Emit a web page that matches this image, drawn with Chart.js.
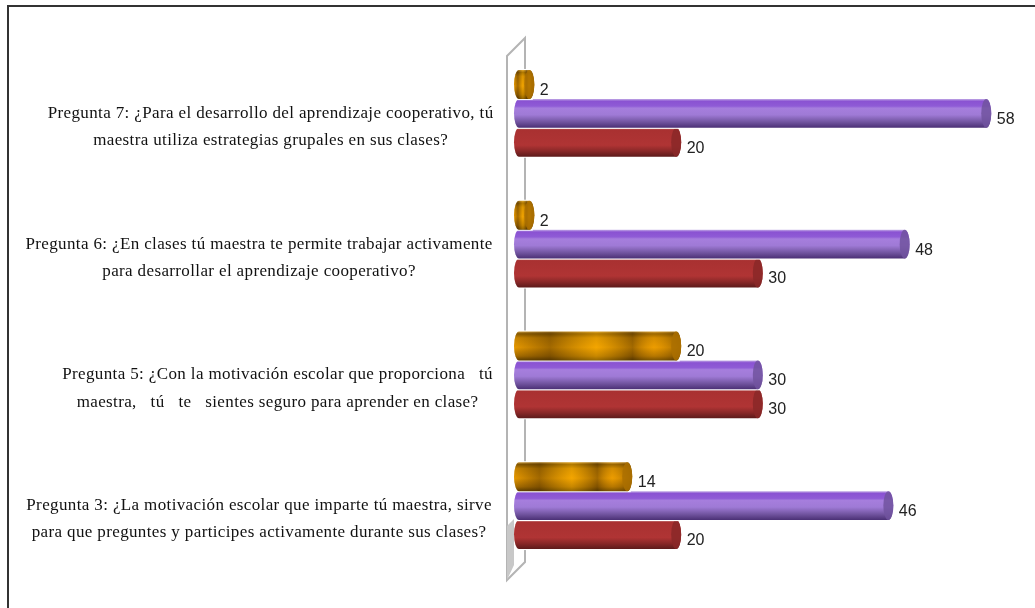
<!DOCTYPE html>
<html>
<head>
<meta charset="utf-8">
<style>
  html, body { margin: 0; padding: 0; background: #fff; overflow: hidden; }
  #frame { position: absolute; left: 7px; top: 5px; width: 1028px; height: 603px; border-top: 2px solid #333; border-left: 2px solid #333; box-sizing: border-box; }
  canvas { position: absolute; left: 0; top: 0; filter: blur(0.35px); }
</style>
</head>
<body>
<div id="frame"></div>
<canvas id="chart" width="1035" height="608"></canvas>
<script src="https://cdn.jsdelivr.net/npm/chart.js@4"></script>
<script>
const categories = [
  ['', '     Pregunta 7: ¿Para el desarrollo del aprendizaje cooperativo, tú', '     maestra utiliza estrategias grupales en sus clases?'],
  ['', 'Pregunta 6: ¿En clases tú maestra te permite trabajar activamente', 'para desarrollar el aprendizaje cooperativo?'],
  ['', '        Pregunta 5: ¿Con la motivación escolar que proporciona   tú', '        maestra,   tú   te   sientes seguro para aprender en clase?'],
  ['', 'Pregunta 3: ¿La motivación escolar que imparte tú maestra, sirve', 'para que preguntes y participes activamente durante sus clases?'],
];
const orangeValues = [2, 2, 20, 14];
const purpleValues = [58, 48, 30, 46];
const redValues = [20, 30, 30, 20];

// vertical shading of each cylinder
const purpleStops = [[0, '#c4aee6'], [0.08, '#8a52d2'], [0.25, '#8f5bd6'], [0.32, '#a67edd'], [0.55, '#9f7ad6'], [0.8, '#71549f'], [1, '#4a2f74']];
const redStops = [[0, '#c58080'], [0.07, '#a93131'], [0.6, '#b03434'], [0.8, '#8a2828'], [1, '#5c1a1a']];
const orangeStops = [[0, '#d9a94a'], [0.08, '#8a5c00'], [0.22, '#d08a00'], [0.55, '#ee9e00'], [0.85, '#ab7000'], [1, '#5f4000']];

function verticalGradient(ctx, top, bottom, stops) {
  const g = ctx.createLinearGradient(0, top, 0, bottom);
  stops.forEach(s => g.addColorStop(s[0], s[1]));
  return g;
}

function cylinderPath(ctx, left, right, top, bottom, r) {
  const mid = (top + bottom) / 2;
  const h = (bottom - top) / 2;
  ctx.beginPath();
  ctx.moveTo(left, top);
  ctx.lineTo(right, top);
  ctx.ellipse(right, mid, r, h, 0, -Math.PI / 2, Math.PI / 2);
  ctx.lineTo(left, bottom);
  ctx.ellipse(left, mid, r, h, 0, Math.PI / 2, Math.PI * 1.5);
  ctx.closePath();
}

const cylinderPlugin = {
  id: 'cylinders',
  beforeUpdate(chart) {
    // the labels in the picture are spaced out a bit
    chart.ctx.letterSpacing = '0.37px';
  },
  beforeDatasetsDraw(chart) {
    // 3D wall behind the bars
    const ctx = chart.ctx;
    const a = chart.chartArea;
    const dx = a.left - 8.5;
    ctx.save();
    ctx.strokeStyle = '#b4b4b4';
    ctx.lineWidth = 2;
    ctx.beginPath();
    ctx.moveTo(dx, a.top + 8);
    ctx.lineTo(dx + 18, a.top - 10);
    ctx.lineTo(dx + 18, a.bottom - 9);
    ctx.lineTo(dx, a.bottom + 9);
    ctx.closePath();
    ctx.stroke();
    ctx.fillStyle = '#c8c8c8';
    ctx.beginPath();
    ctx.moveTo(dx, a.bottom - 45);
    ctx.lineTo(dx + 7, a.bottom - 52);
    ctx.lineTo(dx + 7, a.bottom - 6);
    ctx.lineTo(dx, a.bottom + 9);
    ctx.closePath();
    ctx.fill();
    ctx.restore();
  },
  afterDatasetDraw(chart, args) {
    const ctx = chart.ctx;
    const stops = chart.data.datasets[args.index].shade;
    const isOrange = args.index === 0;
    args.meta.data.forEach(bar => {
      const top = bar.y - bar.height / 2;
      const bottom = bar.y + bar.height / 2;
      const capR = 5;
      const left = bar.base + 3.5;
      const right = bar.x - capR / 2;
      // clear the flat bar the library drew, the cylinder starts further right
      ctx.save();
      ctx.globalCompositeOperation = 'destination-out';
      ctx.fillRect(bar.base - 1, top - 1, bar.x - bar.base + 2, bottom - top + 2);
      ctx.restore();
      ctx.save();
      cylinderPath(ctx, left, right, top, bottom, capR);
      ctx.fillStyle = verticalGradient(ctx, top, bottom, stops);
      ctx.fill();
      if (isOrange) {
        // mottled metal look on the orange series
        ctx.clip();
        const g = ctx.createLinearGradient(left - capR, 0, bar.x, 0);
        g.addColorStop(0, 'rgba(70,40,0,0.05)');
        g.addColorStop(0.22, 'rgba(70,40,0,0.45)');
        g.addColorStop(0.5, 'rgba(255,180,0,0.35)');
        g.addColorStop(0.72, 'rgba(70,40,0,0.45)');
        g.addColorStop(0.85, 'rgba(230,150,0,0.2)');
        g.addColorStop(1, 'rgba(70,40,0,0.45)');
        ctx.fillStyle = g;
        ctx.fillRect(left - capR, top, bar.x - left + capR * 2, bottom - top);
      }
      ctx.restore();
      // end cap
      ctx.save();
      ctx.beginPath();
      ctx.ellipse(right, bar.y, capR, bar.height / 2, 0, 0, Math.PI * 2);
      ctx.fillStyle = stops[stops.length - 2][1];
      ctx.globalAlpha = 0.85;
      ctx.fill();
      ctx.restore();
    });
  },
  afterDatasetsDraw(chart) {
    // value labels
    const ctx = chart.ctx;
    ctx.save();
    ctx.letterSpacing = '0px';
    ctx.font = '16px "Liberation Sans"';
    ctx.fillStyle = '#222';
    ctx.textAlign = 'left';
    ctx.textBaseline = 'middle';
    chart.data.datasets.forEach((ds, i) => {
      chart.getDatasetMeta(i).data.forEach((bar, j) => {
        ctx.fillText(ds.data[j], bar.x + 8, bar.y + 6);
      });
    });
    ctx.restore();
  },
};

new Chart(document.getElementById('chart').getContext('2d'), {
  type: 'bar',
  data: {
    labels: categories,
    datasets: [
      { label: 'Serie 3', data: orangeValues, backgroundColor: '#c98400', shade: orangeStops },
      { label: 'Serie 2', data: purpleValues, backgroundColor: '#8f5bd6', shade: purpleStops },
      { label: 'Serie 1', data: redValues, backgroundColor: '#b03434', shade: redStops },
    ],
  },
  options: {
    indexAxis: 'y',
    responsive: false,
    animation: false,
    layout: { padding: { top: 48, bottom: 37, right: 13.6 } },
    categoryPercentage: 0.664,
    barPercentage: 1,
    plugins: { legend: { display: false }, tooltip: { enabled: false } },
    scales: {
      x: { display: false, min: 0, max: 62 },
      y: {
        afterFit(scale) {
          scale.width = 515.5;
          // no extra room for the first and last label, the plot area is fixed
          scale.paddingTop = 0;
          scale.paddingBottom = 0;
        },
        grid: { display: false },
        border: { display: false },
        ticks: {
          padding: 14,
          crossAlign: 'center',
          color: '#111',
          font: { family: '"Liberation Serif"', size: 17, lineHeight: 1.6 },
        },
      },
    },
  },
  plugins: [cylinderPlugin],
});
</script>
</body>
</html>
